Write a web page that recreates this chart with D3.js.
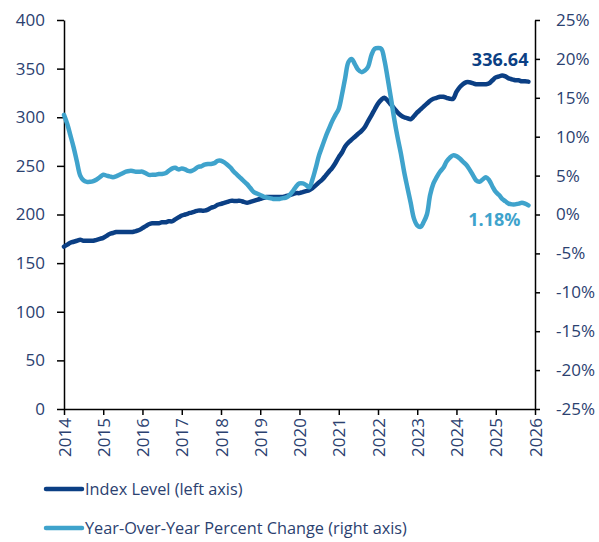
<!DOCTYPE html>
<html>
<head>
<meta charset="utf-8">
<script src="https://cdn.jsdelivr.net/npm/d3@7"></script>
<style>
  body { margin: 0; background: #fff; }
  text { font-family: "Open Sans", sans-serif; }
</style>
</head>
<body>
<div id="chart"></div>
<script>
// monthly values, Jan 2014 .. Nov 2025
const indexLevel = [
  167,169,171,172,173,174,173,173,173,173,174,175,
  176,178,180,181,182,182,182,182,182,182,183,184,
  186,188,190,191,191,191,192,192,193,193,195,197,
  199,200,201,202,203,204,204,204,205,207,208,210,
  211,212,213,214,214,214,214,213,212,213,214,215,
  216,217,218,218,218,218,218,218,219,220,221,222,
  222,223,224,225,227,230,233,236,240,244,248,253,
  259,264,270,274,277,280,283,286,290,296,302,308,
  314,318,320,317,313,309,305,302,300,299,298,301,
  305,308,311,314,317,319,320,321,321,320,319,319,
  326,331,334,336,336,335,334,334,334,334,335,338,
  341,342,343,342,340,339,338,338,337,337,336.64
];
const yoyChange = [
  12.8,11.6,10.2,8.6,6.8,5.0,4.4,4.2,4.2,4.3,4.5,4.8,
  5.1,5.0,4.9,4.8,4.9,5.1,5.3,5.5,5.6,5.6,5.5,5.5,
  5.5,5.3,5.1,5.1,5.1,5.2,5.2,5.3,5.6,5.9,6.0,5.8,
  5.9,5.8,5.6,5.6,5.8,6.1,6.2,6.4,6.5,6.5,6.6,6.9,
  6.9,6.7,6.4,6.0,5.5,5.1,4.7,4.3,3.9,3.4,2.9,2.7,
  2.5,2.3,2.2,2.1,2.0,2.0,2.0,2.1,2.2,2.5,3.0,3.6,
  4.0,4.0,3.8,3.5,4.5,6.0,7.6,8.8,10.0,11.0,12.0,12.8,
  13.6,15.5,17.5,19.6,20.0,19.3,18.6,18.3,18.5,19.0,20.5,21.3,
  21.4,21.3,19.9,17.5,15.0,12.3,10.0,7.9,5.5,3.5,1.5,-0.5,
  -1.4,-1.6,-1.0,0.0,2.5,4.0,4.8,5.5,6.0,6.8,7.3,7.6,
  7.5,7.2,6.8,6.4,5.8,5.1,4.4,4.2,4.5,4.8,4.4,3.6,
  2.9,2.5,2.0,1.7,1.4,1.3,1.3,1.4,1.5,1.4,1.18
];
const yearTicks = d3.range(2014, 2027);
const leftTicks = [0, 50, 100, 150, 200, 250, 300, 350, 400];
const rightTicks = [-25, -20, -15, -10, -5, 0, 5, 10, 15, 20, 25];
const seriesNames = ["Index Level (left axis)", "Year-Over-Year Percent Change (right axis)"];

const dark = "#0b3f84";
const light = "#3fa3cc";
const labelColor = "#2b4170";

const width = 599, height = 542;
const margin = { top: 20, right: 64, bottom: 133, left: 64 };

const svg = d3.select("#chart").append("svg")
  .attr("width", width).attr("height", height);

const dates = indexLevel.map((d, i) => new Date(2014 + Math.floor(i / 12), i % 12, 1));

const x = d3.scaleTime()
  .domain([new Date(2014, 0, 1), new Date(2026, 0, 1)])
  .range([margin.left, width - margin.right]);
const yLeft = d3.scaleLinear().domain([0, 400]).range([height - margin.bottom, margin.top]);
const yRight = d3.scaleLinear().domain([-25, 25]).range([height - margin.bottom, margin.top]);

// axes
const gx = svg.append("g")
  .attr("transform", `translate(0,${height - margin.bottom})`)
  .call(d3.axisBottom(x)
    .tickValues(yearTicks.map(y => new Date(y, 0, 1)))
    .tickFormat(d3.timeFormat("%Y"))
    .tickSize(6).tickSizeOuter(0));
gx.selectAll("text")
  .attr("transform", "rotate(-90)")
  .attr("text-anchor", "end")
  .attr("x", -9).attr("y", 0).attr("dy", "0.36em");

const gl = svg.append("g")
  .attr("transform", `translate(${margin.left},0)`)
  .call(d3.axisLeft(yLeft).tickValues(leftTicks).tickSize(7).tickSizeOuter(0).tickPadding(12));

const gr = svg.append("g")
  .attr("transform", `translate(${width - margin.right},0)`)
  .call(d3.axisRight(yRight).tickValues(rightTicks).tickFormat(d => d + "%")
    .tickSize(5).tickSizeOuter(0).tickPadding(16));

svg.selectAll(".domain, .tick line").attr("stroke", "#000").attr("stroke-width", 1.5);
svg.selectAll(".tick text")
  .attr("fill", labelColor)
  .style("font-size", "17px");

// lines
const lineLeft = d3.line()
  .x((d, i) => x(dates[i]))
  .y(d => yLeft(d))
  .curve(d3.curveCatmullRom);
const lineRight = d3.line()
  .x((d, i) => x(dates[i]))
  .y(d => yRight(d))
  .curve(d3.curveCatmullRom);

svg.append("path").datum(indexLevel)
  .attr("fill", "none").attr("stroke", dark).attr("stroke-width", 4.5)
  .attr("stroke-linejoin", "round").attr("stroke-linecap", "round")
  .attr("d", lineLeft);

svg.append("path").datum(yoyChange)
  .attr("fill", "none").attr("stroke", light).attr("stroke-width", 4.5)
  .attr("stroke-linejoin", "round").attr("stroke-linecap", "round")
  .attr("d", lineRight);

// end labels
const last = indexLevel.length - 1;
svg.append("text")
  .attr("x", x(dates[last]))
  .attr("y", yLeft(indexLevel[last]) - 16)
  .attr("text-anchor", "end")
  .attr("fill", dark)
  .style("font-size", "18px").style("font-weight", "bold")
  .text(indexLevel[last].toFixed(2));

svg.append("text")
  .attr("x", x(dates[last]) - 8)
  .attr("y", yRight(yoyChange[last]) + 21)
  .attr("text-anchor", "end")
  .attr("fill", light)
  .style("font-size", "18px").style("font-weight", "bold")
  .text(yoyChange[last].toFixed(2) + "%");

// legend
const legend = svg.append("g");
[dark, light].forEach((c, i) => {
  const ly = 489 + i * 39;
  legend.append("line")
    .attr("x1", 46).attr("x2", 82).attr("y1", ly).attr("y2", ly)
    .attr("stroke", c).attr("stroke-width", 4.5).attr("stroke-linecap", "round");
  legend.append("text")
    .attr("x", 85).attr("y", ly).attr("dy", "0.35em")
    .attr("fill", labelColor)
    .style("font-size", "16.3px")
    .text(seriesNames[i]);
});
</script>
</body>
</html>
